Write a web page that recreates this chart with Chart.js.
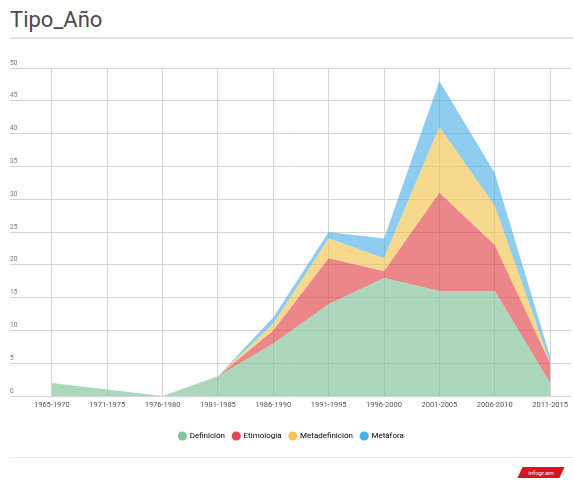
<!DOCTYPE html>
<html>
<head>
<meta charset="utf-8">
<script src="https://cdn.jsdelivr.net/npm/chart.js@4.4.0/dist/chart.umd.min.js"></script>
<style>
  body { margin: 0; background: #fff; width: 573px; height: 480px; position: relative; overflow: hidden; font-family: Roboto, sans-serif; }
  .title { position: absolute; left: 10px; top: 7px; font-size: 22px; color: #4a4a4a; }
  .title-line { position: absolute; left: 10px; right: 0; top: 37px; height: 2px; background: #e4e4e4; }
  .chart-box { position: absolute; left: 0; top: 50px; width: 573px; height: 400px; }
  .foot-line { position: absolute; left: 10px; right: 0; top: 457px; height: 1px; background: #ececec; }
  .badge { position: absolute; left: 520px; top: 467px; width: 42px; height: 11px; background: #d9141c; transform: skewX(-25deg); }
  .badge span { display: block; transform: skewX(25deg); color: #fff; font-size: 6px; line-height: 11px; text-align: center; }
</style>
</head>
<body>
<div class="title">Tipo_Año</div>
<div class="title-line"></div>
<div class="chart-box"><canvas id="area-chart"></canvas></div>
<div class="foot-line"></div>
<div class="badge"><span>infogr.am</span></div>
<script>
// data
const categories = ['1965-1970', '1971-1975', '1976-1980', '1981-1985', '1986-1990', '1991-1995', '1996-2000', '2001-2005', '2006-2010', '2011-2015'];
const definicion = [2, 1, 0, 3, 8, 14, 18, 16, 16, 2];
const etimologia = [0, 0, 0, 0, 2, 7, 1, 15, 7, 3];
const metadefinicion = [0, 0, 0, 0, 1, 3, 2, 10, 6, 0];
const metafora = [0, 0, 0, 0, 1, 1, 3, 7, 5, 1];
const yMax = 50;
const yStep = 5;

const solid = ['#84c49d', '#e0474f', '#f2c652', '#4aafe6'];
const fills = ['rgba(132, 196, 157, 0.68)', 'rgba(224, 71, 79, 0.66)', 'rgba(242, 198, 82, 0.66)', 'rgba(74, 175, 230, 0.62)'];

const toPoints = values => values.map((v, i) => ({ x: i, y: v }));

const ctxArea = document.getElementById('area-chart');

new Chart(ctxArea, {
  type: 'line',
  data: {
    datasets: [{
      label: 'Definición',
      data: toPoints(definicion),
      fill: 'origin',
      backgroundColor: fills[0],
      borderWidth: 0,
      pointRadius: 0,
      tension: 0
    },
    {
      label: 'Etimología',
      data: toPoints(etimologia),
      fill: '-1',
      backgroundColor: fills[1],
      borderWidth: 0,
      pointRadius: 0,
      tension: 0
    },
    {
      label: 'Metadefinición',
      data: toPoints(metadefinicion),
      fill: '-1',
      backgroundColor: fills[2],
      borderWidth: 0,
      pointRadius: 0,
      tension: 0
    },
    {
      label: 'Metáfora',
      data: toPoints(metafora),
      fill: '-1',
      backgroundColor: fills[3],
      borderWidth: 0,
      pointRadius: 0,
      tension: 0
    }]
  },
  options: {
    responsive: true,
    maintainAspectRatio: false,
    animation: false,
    layout: {
      padding: { left: 10, right: 0, top: 18, bottom: 0 }
    },
    plugins: {
      tooltip: { enabled: false },
      legend: {
        position: 'bottom',
        labels: {
          usePointStyle: true,
          pointStyle: 'circle',
          boxHeight: 6.5,
          boxWidth: 6.5,
          padding: 8,
          color: '#666',
          font: { family: 'Roboto', size: 8 },
          generateLabels: chart => chart.data.datasets.map((ds, i) => ({
            text: ds.label,
            fillStyle: solid[i],
            strokeStyle: solid[i],
            lineWidth: 0,
            pointStyle: 'circle',
            hidden: false,
            datasetIndex: i
          }))
        }
      }
    },
    scales: {
      x: {
        type: 'linear',
        min: -0.756,
        max: 9.378,
        grid: {
          color: '#d4d4d4',
          drawTicks: false
        },
        border: { display: false },
        afterFit: scale => { scale.height += 9; },
        ticks: {
          stepSize: 1,
          includeBounds: false,
          autoSkip: false,
          maxRotation: 0,
          padding: 5,
          color: '#555',
          font: { family: 'Roboto', size: 7.5 },
          callback: value => categories[value] ?? ''
        }
      },
      y: {
        stacked: true,
        min: 0,
        max: yMax,
        grid: {
          color: '#d4d4d4',
          drawTicks: false
        },
        border: { display: false },
        ticks: {
          stepSize: yStep,
          mirror: true,
          padding: 0,
          labelOffset: -5,
          color: '#777',
          font: { family: 'Roboto', size: 6.5 }
        }
      }
    }
  }
});
</script>
</body>
</html>
